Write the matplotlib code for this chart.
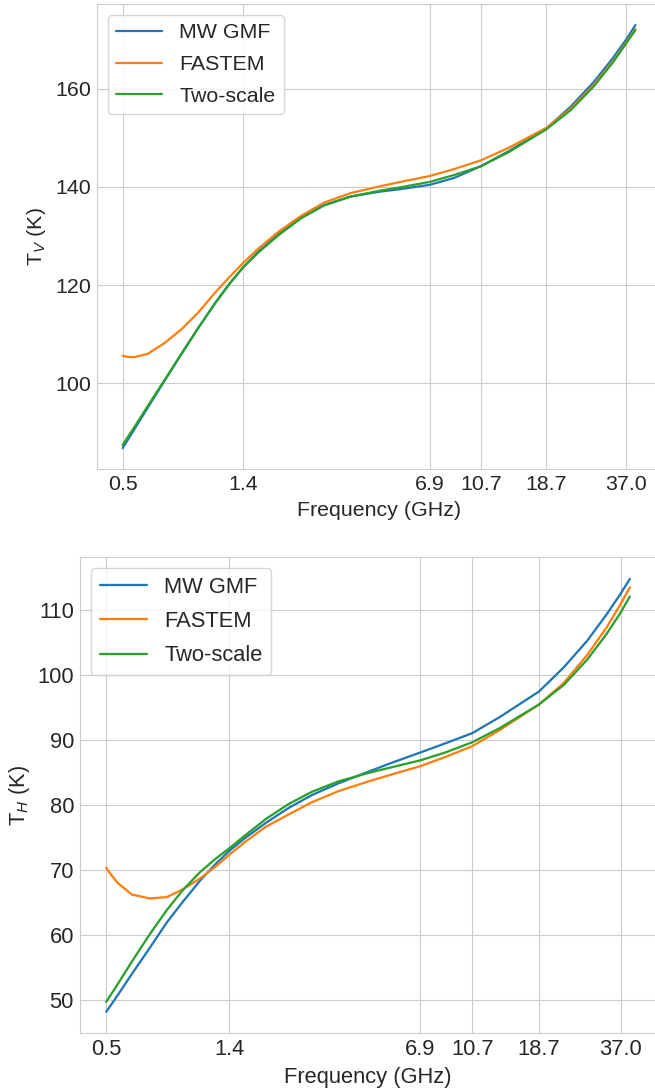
import matplotlib
matplotlib.use("Agg")
import matplotlib.pyplot as plt
import seaborn as sns
from matplotlib.ticker import NullLocator, NullFormatter, FixedLocator, FixedFormatter

sns.set_style("whitegrid")
plt.rcParams['font.family'] = ['Liberation Sans', 'DejaVu Sans']
plt.rcParams['mathtext.fontset'] = 'custom'
plt.rcParams['mathtext.rm'] = 'Liberation Sans'
plt.rcParams['mathtext.it'] = 'Liberation Sans:italic'

# sampled frequencies (GHz)
freq = [0.5, 0.52, 0.55, 0.62, 0.72, 0.83, 0.95, 1.1, 1.25, 1.4, 1.6, 1.9, 2.3, 2.8, 3.5,
        4.5, 5.5, 6.9, 8.5, 10.7, 13.5, 18.7, 23, 28, 33, 37, 40]

# Vertical polarisation brightness temperature (K)
tv_mwgmf = [86.8, 88.3, 90.45, 95.05, 100.75, 106.1, 111.1, 116.3, 120.4, 123.6, 126.9,
            130.4, 133.8, 136.3, 138.0, 139.0, 139.6, 140.4, 141.8, 144.2, 147.2, 151.9,
            156.3, 161.3, 166.2, 170.0, 172.9]
tv_fastem = [105.6, 105.4, 105.3, 106.0, 108.3, 111.1, 114.3, 118.4, 121.7, 124.5, 127.5,
             130.9, 134.1, 136.8, 138.7, 140.1, 141.1, 142.2, 143.6, 145.4, 147.9, 152.0,
             155.9, 160.7, 165.5, 169.4, 172.1]
tv_twoscale = [87.4, 88.9, 90.9, 95.4, 100.9, 106.2, 111.1, 116.2, 120.3, 123.6, 126.7,
               130.2, 133.6, 136.2, 138.0, 139.2, 140.0, 141.0, 142.4, 144.2, 147.0, 151.7,
               155.6, 160.4, 165.3, 169.2, 171.9]

# Horizontal polarisation brightness temperature (K)
th_mwgmf = [48.2, 49.2, 50.7, 54.0, 58.0, 61.9, 65.1, 68.4, 70.9, 72.9, 74.9,
            77.2, 79.5, 81.5, 83.3, 85.1, 86.5, 88.0, 89.4, 91.0, 93.5, 97.4,
            101.1, 105.2, 109.3, 112.4, 114.7]
th_fastem = [70.3, 69.3, 68.0, 66.2, 65.6, 65.8, 67.0, 68.7, 70.5, 72.3, 74.3,
             76.6, 78.5, 80.4, 82.1, 83.6, 84.7, 85.9, 87.3, 89.0, 91.5, 95.4,
             98.7, 103.0, 107.3, 110.8, 113.4]
th_twoscale = [49.7, 50.8, 52.4, 55.9, 60.1, 63.8, 66.9, 69.7, 71.7, 73.3, 75.3,
               77.8, 80.1, 82.0, 83.6, 84.9, 85.8, 86.8, 88.0, 89.6, 91.8, 95.4,
               98.4, 102.3, 106.3, 109.5, 112.0]

tick_freqs = [0.5, 1.4, 6.9, 10.7, 18.7, 37.0]
tick_labels = ['0.5', '1.4', '6.9', '10.7', '18.7', '37.0']
series_names = ['MW GMF', 'FASTEM', 'Two-scale']
colors = ['#1f77b4', '#ff7f0e', '#2ca02c']

W, H = 655, 1091
fig = plt.figure(figsize=(W / 100, H / 100), dpi=100)

def px_axes(left, top, right, bottom):
    return fig.add_axes([left / W, 1 - bottom / H, (right - left) / W, (bottom - top) / H])

ax1 = px_axes(97, 4, 661, 469.3)
ax2 = px_axes(80, 557.3, 656, 1033.3)

panels = [
    (ax1, [tv_mwgmf, tv_fastem, tv_twoscale], 'T$_{V}$ (K)', 1.0, 5.0),
    (ax2, [th_mwgmf, th_fastem, th_twoscale], 'T$_{H}$ (K)', 1.023, 4.0),
]

for ax, data, ylab, s, ylpad in panels:
    fs = 15.4 * s
    for vals, name, c in zip(data, series_names, colors):
        ax.plot(freq, vals, color=c, lw=1.6 * s, label=name)
    ax.set_xscale('log')
    ax.xaxis.set_major_locator(FixedLocator(tick_freqs))
    ax.xaxis.set_major_formatter(FixedFormatter(tick_labels))
    ax.xaxis.set_minor_locator(NullLocator())
    ax.xaxis.set_minor_formatter(NullFormatter())
    ax.tick_params(axis='both', which='major', labelsize=fs, colors='#262626',
                   length=0, pad=4.2 * s)
    ax.set_xlabel('Frequency (GHz)', fontsize=fs, color='#262626', labelpad=5 * s)
    ax.set_ylabel(ylab, fontsize=fs, color='#262626', labelpad=ylpad)
    leg = ax.legend(loc='upper left', fontsize=fs, frameon=True, borderpad=0.4,
                    handlelength=2.15, labelspacing=0.6, handletextpad=0.8)
    leg.get_frame().set_edgecolor('#cccccc')

fig.savefig('out.png', dpi=100)
